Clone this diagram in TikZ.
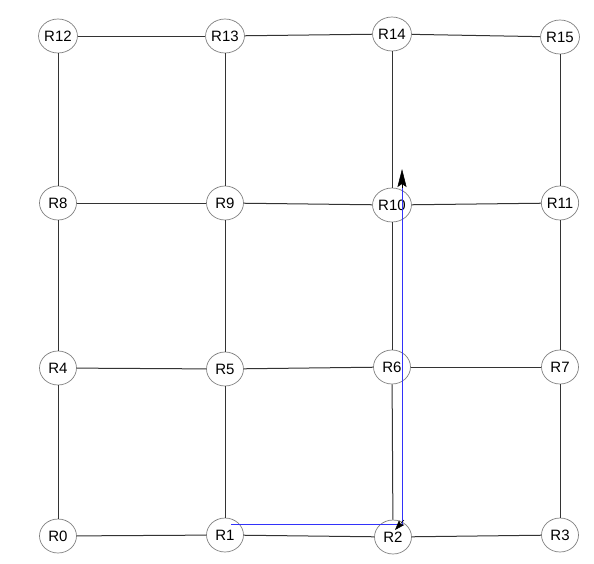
\documentclass[tikz,border=0pt]{standalone}
\usepackage{fontspec}
\setmainfont{Liberation Sans}
\usetikzlibrary{shapes.geometric,arrows.meta}
\definecolor{routeblue}{RGB}{50,50,250}
\begin{document}
\begin{tikzpicture}[x=1pt,y=-1pt,
  router/.style={ellipse,draw=black!50,line width=0.7pt,fill=white,minimum width=37pt,minimum height=34pt,inner sep=0pt,font=\fontsize{15}{17}\selectfont},
  link/.style={draw=black!80,line width=1pt},
  route/.style={draw=routeblue,line width=1pt},
  tip/.style={draw=black,fill=black,line width=0.5pt}]
\useasboundingbox (0,0) rectangle (594,563);
% nodes
\node[router] (R12) at (58,36) {R12};
\node[router] (R13) at (225,36) {R13};
\node[router] (R14) at (392,34) {R14};
\node[router] (R15) at (560,37) {R15};
\node[router] (R8) at (58,203) {R8};
\node[router] (R9) at (225,203) {R9};
\node[router] (R10) at (392,205) {R10};
\node[router] (R11) at (560,203) {R11};
\node[router] (R4) at (58,368) {R4};
\node[router] (R5) at (225,369) {R5};
\node[router] (R6) at (392,367) {R6};
\node[router] (R7) at (560,367) {R7};
\node[router] (R0) at (58,536) {R0};
\node[router] (R1) at (225,535) {R1};
\node[router] (R2) at (393,537) {R2};
\node[router] (R3) at (560,535) {R3};
% links
\foreach \a/\b in {R12/R13,R13/R14,R14/R15,R8/R9,R9/R10,R10/R11,R4/R5,R5/R6,R6/R7,R0/R1,R1/R2,R2/R3,
  R12/R8,R8/R4,R4/R0,R13/R9,R9/R5,R5/R1,R14/R10,R10/R6,R6/R2,R15/R11,R11/R7,R7/R3}
  \draw[link] (\a) -- (\b);
% route
\coordinate (s) at (231,524);
\coordinate (c) at (402,524);
\coordinate (b) at (402,186);
\coordinate (b0) at (402,188);
\coordinate (t) at (402,169);
\coordinate (a1) at (404,520);
\coordinate (a2) at (395,530);
\draw[route] (s) -- (c) -- (b);
\draw[tip,-{Stealth[length=18pt,width=9pt,inset=3pt]}] (b0) -- (t);
\draw[tip,-{Stealth[length=10pt,width=7pt,inset=2pt]}] (a1) -- (a2);
\end{tikzpicture}
\end{document}
